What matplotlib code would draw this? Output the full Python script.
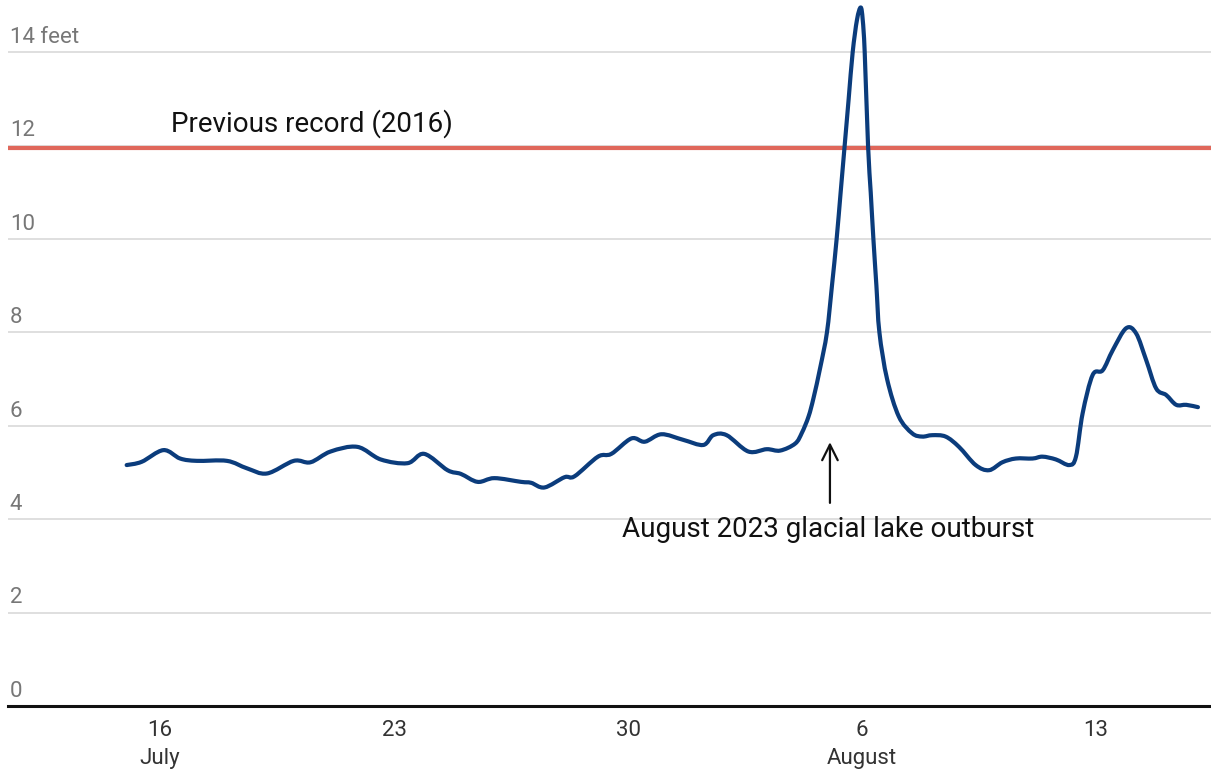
import matplotlib
matplotlib.use("Agg")
import matplotlib.pyplot as plt
from matplotlib import transforms
from matplotlib.path import Path
from matplotlib.patches import PathPatch

plt.rcParams['font.family'] = ['Roboto', 'DejaVu Sans']

# day number counted from July 0 (so 32 = August 1)
days = [15.0, 15.45, 16.1, 16.6, 17.1, 18.0, 18.6, 19.2, 20.0, 20.5,
        21.1, 21.9, 22.6, 23.4, 23.9, 24.6, 25.0, 25.5, 26.0, 26.8,
        27.1, 27.5, 28.1, 28.4, 29.1, 29.5, 30.1, 30.5, 31.0, 31.65,
        32.25, 32.55, 32.95, 33.6, 34.15, 34.55, 35.0, 35.2, 35.4, 35.55,
        35.75, 35.95, 36.1, 36.24, 36.36, 36.48, 36.6, 36.72, 36.85, 36.96,
        37.02, 37.08, 37.18, 37.26, 37.34, 37.43, 37.52, 37.75, 38.1, 38.5,
        38.8, 39.1, 39.5, 39.9, 40.4, 40.8, 41.2, 41.6, 42.1, 42.4,
        42.8, 43.2, 43.4, 43.6, 43.9, 44.2, 44.5, 44.9, 45.2, 45.5,
        45.8, 46.1, 46.4, 46.7, 47.05]
level_ft = [5.16, 5.23, 5.48, 5.30, 5.25, 5.25, 5.09, 4.98, 5.25, 5.22,
            5.45, 5.55, 5.28, 5.20, 5.40, 5.05, 4.97, 4.80, 4.88, 4.80,
            4.78, 4.68, 4.90, 4.92, 5.34, 5.40, 5.73, 5.66, 5.82, 5.70,
            5.59, 5.80, 5.80, 5.45, 5.50, 5.47, 5.62, 5.85, 6.2, 6.6,
            7.25, 8.0, 9.0, 10.0, 11.0, 12.0, 13.0, 14.0, 14.7, 14.96,
            14.7, 14.0, 12.0, 11.0, 10.0, 9.0, 8.0, 7.0, 6.2, 5.84,
            5.77, 5.80, 5.77, 5.55, 5.16, 5.05, 5.22, 5.30, 5.30, 5.34,
            5.28, 5.16, 5.34, 6.27, 7.09, 7.19, 7.62, 8.09, 7.98, 7.41,
            6.80, 6.66, 6.45, 6.45, 6.40]

previous_record = 11.95
y_ticks = [0, 2, 4, 6, 8, 10, 12, 14]
y_labels = ['0', '2', '4', '6', '8', '10', '12', '14 feet']
x_ticks = [16, 23, 30, 37, 44]
x_labels = ['16\nJuly', '23', '30', '6\nAugust', '13']

fig = plt.figure(figsize=(12.11, 7.78), dpi=100)
ax = fig.add_axes([8 / 1211, 1 - 706 / 778, 1 - 8 / 1211, 706 / 778])

ax.set_xlim(11.45, 47.44)
ax.set_ylim(0, 15.12)

for y in y_ticks[1:]:
    ax.axhline(y, color='#dcdcdc', lw=1.3, zorder=1)
ax.axhline(previous_record, color='#e0675b', lw=3, zorder=2)

# smooth curve through the read points (Catmull-Rom drawn as cubic Beziers)
verts = [(days[0], level_ft[0])]
codes = [Path.MOVETO]
n = len(days)
for i in range(n - 1):
    x0, y0 = days[max(i - 1, 0)], level_ft[max(i - 1, 0)]
    x1, y1 = days[i], level_ft[i]
    x2, y2 = days[i + 1], level_ft[i + 1]
    x3, y3 = days[min(i + 2, n - 1)], level_ft[min(i + 2, n - 1)]
    verts += [(x1 + (x2 - x0) / 6, y1 + (y2 - y0) / 6),
              (x2 - (x3 - x1) / 6, y2 - (y3 - y1) / 6),
              (x2, y2)]
    codes += [Path.CURVE4] * 3
ax.add_patch(PathPatch(Path(verts, codes), facecolor='none',
                       edgecolor='#0b3c7c', lw=3, zorder=3,
                       capstyle='round', joinstyle='round', clip_on=False))

trans = transforms.blended_transform_factory(ax.transAxes, ax.transData)
for y, lab in zip(y_ticks, y_labels):
    ax.text(0.0015, y + 0.2, lab, transform=trans, fontsize=16,
            color='#777777', ha='left', va='baseline')

ax.text(16.33, 12.31, 'Previous record (2016)', fontsize=20,
        color='#111111', ha='left', va='baseline')

ax.annotate('', xy=(36.04, 5.65), xytext=(36.04, 4.35),
            arrowprops=dict(arrowstyle='->', lw=1.6, color='#111111',
                            mutation_scale=28, shrinkA=0, shrinkB=0))
ax.text(35.98, 3.62, 'August 2023 glacial lake outburst', fontsize=20,
        color='#111111', ha='center', va='baseline')

ax.set_yticks([])
ax.set_xticks(x_ticks)
ax.set_xticklabels(x_labels, fontsize=16, color='#333333', linespacing=1.45)
ax.tick_params(axis='x', length=0, pad=10)

for side in ['top', 'right', 'left']:
    ax.spines[side].set_visible(False)
ax.spines['bottom'].set_color('#111111')
ax.spines['bottom'].set_linewidth(2.2)

fig.savefig('out.png', dpi=100)
